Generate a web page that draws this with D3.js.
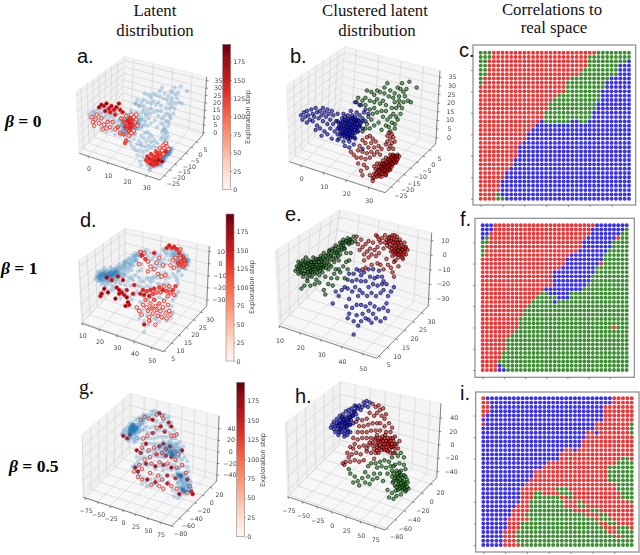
<!DOCTYPE html>
<html>
<head>
<meta charset="utf-8">
<script src="https://d3js.org/d3.v7.min.js"></script>
<style>
  body { margin: 0; background: #fff; }
  svg { display: block; }
</style>
</head>
<body>
<script>
// Latent points, as [across, up] on the box of each 3D view (0-100)
const blue0 = [[8,53],[9,50],[10,55],[11,52],[12,48],[12,56],[13,53],[14,50],[15,57],[16,54],[16,49],[17,52],[18,58],[19,55],[20,51],[19,46],[21,56],[22,53],[23,58],[23,49],[24,55],[25,52],[26,57],[26,47],[27,54],[28,50],[29,56],[18,43],[21,44],[24,42],[22,39],[26,40],[28,44],[30,47],[30,53],[31,42],[29,37],[32,49],[33,40],[33,54],[34,45],[35,42],[35,48],[36,39],[36,44],[36,51],[37,41],[37,46],[37,54],[38,38],[38,43],[38,48],[38,52],[39,40],[39,45],[39,50],[40,37],[40,42],[40,47],[40,53],[41,39],[41,44],[41,49],[42,41],[42,46],[42,51],[42,56],[43,38],[43,43],[43,48],[43,53],[44,45],[44,50],[45,41],[45,47],[45,52],[46,44],[46,49],[46,55],[47,42],[47,50],[48,46],[48,53],[49,48],[50,51],[50,44],[51,55],[52,49],[34,37],[33,36],[37,35],[41,35],[45,37],[38,32],[41,31],[44,33],[45,62],[48,60],[52,57],[54,54],[50,30],[34.5,43.5],[35.5,46],[36.5,41],[36.5,48.5],[37.5,44],[37.5,39.5],[37.5,50],[38.5,46],[38.5,41.5],[39.5,48],[39.5,43],[39.5,38.5],[40.5,45],[40.5,50.5],[40.5,40],[41.5,47],[41.5,42.5],[41.5,37.5],[42.5,44],[42.5,49],[42.5,39.5],[43.5,46],[43.5,41],[43.5,51],[44.5,43],[44.5,48],[44.5,38],[45.5,45],[45.5,50],[46.5,47],[46.5,42],[47.5,45],[47.5,49],[34,47],[35,40],[33,44],[33,49]];
const green0 = [[87,72],[82,76],[77,75],[74,72],[76,71],[78,69],[80,71],[67,75],[65,72],[69,70],[72,68],[75,66],[79,66],[81,63],[83,62],[78,62],[75,63],[71,65],[68,66],[65,68],[62,69],[60,70],[58,67],[56,69],[53,70],[52,65],[50,63],[47,65],[46,62],[49,60],[52,60],[55,63],[58,62],[60,64],[62,61],[64,63],[66,60],[58,58],[55,57],[60,55],[57,54],[63,56],[66,56],[70,58],[72,62],[73,58],[75,60],[77,58],[71,54],[69,52],[73,52],[76,54],[67,50],[70,48],[72,47],[68,45],[72,44],[74,50],[66,46],[69,42],[56,50],[53,47],[58,46],[61,48],[55,44],[52,44],[50,42],[63,43],[48,46],[54,52],[50,49],[64,52]];
const red0 = [[68,41],[67,39],[70,40],[69,37],[71,38],[67,35],[70,34],[69,32],[66,33],[72,35],[68,30],[71,30],[55,39],[53,38],[57,37],[50,36],[52,34],[56,34],[59,35],[54,31],[58,31],[61,32],[63,30],[48,32],[47,29],[50,28],[53,27],[56,28],[60,28],[44,26],[46,24],[49,24],[42,28],[52,23],[55,24],[47,20],[51,19],[49,15],[53,17],[50,12],[58,26],[62,26],[55,12],[57,10],[58,13],[59,16],[60,11],[60,14],[61,18],[62,13],[62,16],[62,20],[63,11],[63,15],[64,18],[64,22],[65,14],[65,17],[65,20],[66,12],[66,16],[66,19],[66,24],[67,15],[67,18],[67,21],[68,17],[68,20],[68,23],[69,16],[69,19],[69,22],[69,26],[70,18],[70,21],[70,24],[71,20],[71,23],[71,26],[72,22],[72,25],[73,21],[73,24],[74,23],[74,26],[75,25],[58,18],[60,20],[57,8],[58,10.5],[59,12.5],[60.5,15.5],[61.5,11.5],[61.5,14.5],[62.5,17.5],[63.5,13],[63.5,16.5],[63.5,19.5],[64.5,15],[64.5,20],[65.5,12.5],[65.5,15.5],[65.5,18.5],[66.5,14],[66.5,17.5],[66.5,21],[67.5,16.5],[67.5,19.5],[67.5,23],[68.5,15.5],[68.5,18.5],[68.5,21.5],[69.5,20.5],[69.5,24],[70.5,19.5],[70.5,22.5],[70.5,25.5],[71.5,21.5],[71.5,24.5],[72.5,23.5],[72.5,20.5],[73.5,25],[73.5,22.5]];
// Explored points: [across, up, exploration step]
const steps0 = [[16,59,185],[18,61,190],[20,60,178],[22,62,195],[24,58,170],[26,60,182],[28,57,165],[30,59,188],[32,62,175],[33,57,160],[25,55,150],[21,56,172],[35,55,155],[29,53,140],[10,51,20],[11,47,12],[13,49,30],[14,53,25],[16,46,10],[18,50,35],[20,45,15],[22,42,8],[23,47,40],[25,43,18],[27,47,45],[29,41,22],[12,44,5],[19,41,28],[34,50,60],[36,47,110],[37,43,130],[38,52,30],[39,48,140],[39,44,120],[40,40,100],[40,36,35],[41,50,125],[41,46,145],[41,42,135],[42,53,15],[42,38,20],[43,48,115],[43,44,128],[44,51,10],[44,40,25],[45,47,40],[46,53,12],[46,49,18],[47,44,22],[36,37,90],[33,38,70],[37,30,105],[38,32,95],[31,43,80],[54,16,120],[55,19,135],[56,14,110],[57,17,150],[58,21,125],[58,13,140],[59,16,130],[60,19,118],[60,12,128],[61,15,145],[62,18,122],[62,23,112],[63,13,135],[63,20,125],[64,16,180],[65,22,115],[65,26,30],[66,19,105],[67,24,20],[68,28,12],[68,21,45],[69,26,15],[70,30,10],[70,23,138],[71,27,25],[67,15,190],[72,25,35]];

const green1 = [[11,59],[12,62],[13,57],[13,65],[14,60],[15,63],[15,58],[16,66],[16,55],[17,61],[18,64],[18,57],[18,68],[19,60],[19,54],[20,63],[20,66],[21,58],[21,61],[22,55],[22,65],[23,60],[23,63],[23,68],[24,57],[24,62],[25,65],[25,53],[26,60],[26,67],[27,63],[27,56],[28,69],[28,61],[29,65],[29,58],[30,62],[30,71],[31,67],[31,55],[32,64],[33,70],[33,60],[34,73],[34,66],[35,62],[35,69],[36,74],[37,71],[37,65],[38,76],[38,68],[39,72],[40,75],[40,66],[41,78],[41,70],[42,73],[43,80],[43,76],[44,74],[45,79],[45,71],[46,81],[47,77],[48,80],[49,78],[50,82],[51,79],[15,47],[17,49],[19,52],[21,49],[24,50],[27,51],[30,46],[31,43],[33,50],[35,54],[37,57],[36,49],[39,54],[41,58],[43,62],[44,54],[46,60],[47,66],[40,60],[48,71],[45,65],[38,60],[12.5,60],[13.5,62],[14.5,58],[14.5,64],[15.5,61],[16.5,57],[16.5,63],[17.5,59],[17.5,65],[18.5,62],[19.5,58],[19.5,64],[20.5,61],[20.5,56],[21.5,65],[21.5,59],[22.5,62],[22.5,58],[23.5,65],[24.5,60],[24.5,67],[25.5,58],[25.5,63],[26.5,65],[26.5,61],[27.5,59],[27.5,67],[28.5,63],[28.5,66],[29.5,61],[29.5,68],[30.5,64],[31.5,61],[31.5,69],[32.5,67],[33.5,63],[33.5,72],[34.5,69],[35.5,72],[36.5,67],[37.5,74],[38.5,71],[39.5,69],[40.5,73],[41.5,76],[42.5,78],[43.5,74],[44.5,78],[46.5,78],[47.5,80]];
const red1 = [[52,82],[53,77],[54,73],[55,80],[56,75],[57,70],[58,77],[59,72],[60,79],[57,66],[60,68],[61,74],[62,70],[63,78],[64,73],[65,69],[66,75],[67,71],[65,83],[68,78],[66,64],[62,63],[58,61],[56,60],[70,74],[66,82],[67,80],[69,81],[71,83],[72,80],[73,78],[74,82],[74,75],[75,79],[75,72],[76,83],[76,76],[76,69],[77,80],[77,73],[78,78],[78,71],[78,66],[79,82],[79,75],[80,68],[80,72],[80,78],[81,80],[81,74],[82,76],[82,70],[83,73],[83,67],[84,78],[84,72],[85,70],[85,75],[86,73],[77,65],[75,61],[73,63],[70,60],[68,63],[72,67],[76,58],[80,62],[77,55],[74,78.5],[75.5,81],[75.5,74],[76.5,78],[76.5,72],[77.5,76],[77.5,70],[77.5,83],[78.5,74],[78.5,80],[79.5,70],[79.5,78],[79.5,73],[80.5,75],[80.5,70],[81.5,72],[81.5,78],[82.5,73],[82.5,68],[83.5,75],[83.5,70],[84.5,74],[72.5,76],[73.5,81],[71,78]];
const blue1 = [[50,16],[53,22],[50,25],[55,25],[52,29],[47,30],[46,27],[58,27],[60,26],[62,24],[56,30],[60,32],[63,30],[65,27],[68,25],[71,27],[73,32],[70,34],[67,33],[72,37],[64,35],[61,37],[58,35],[55,36],[52,36],[49,34],[45,35],[47,40],[36,37],[38,45],[40,42],[42,46],[44,48],[46,47],[49,45],[51,48],[54,46],[53,42],[56,44],[59,42],[62,44],[65,42],[68,44],[70,46],[73,42],[75,45],[77,48],[72,50],[69,50],[66,49],[63,50],[60,48],[58,52],[55,52],[52,53],[49,52],[46,53],[61,55],[64,54],[66,55],[69,55],[57,58],[54,59],[60,60],[63,60],[52,60],[55,56],[50,57],[47,57],[67,59],[70,52]];
const steps1 = [[68,84,140],[70,86,150],[72,84,135],[74,85,145],[76,83,130],[78,80,125],[79,76,40],[80,73,110],[81,77,120],[82,74,105],[77,72,115],[78,70,100],[75,76,30],[73,74,25],[74,68,20],[71,70,15],[83,71,90],[81,69,95],[79,83,60],[47,81,50],[50,80,35],[48,78,140],[51,75,120],[53,73,18],[46,71,10],[55,69,22],[58,80,150],[62,76,12],[60,72,8],[58,67,5],[65,70,14],[53,65,28],[61,63,16],[64,61,20],[67,62,12],[20,60,190],[24,58,170],[29,61,180],[33,58,185],[18,51,195],[16,47,188],[15,45,175],[21,48,192],[28,52,178],[30,50,190],[32,48,185],[34,46,170],[36,44,192],[37,40,188],[35,37,180],[30,47,175],[27,43,196],[38,38,165],[36,50,160],[41,47,155],[42,54,150],[47,47,155],[49,50,140],[50,46,165],[52,49,125],[54,45,150],[55,50,130],[57,47,110],[58,51,135],[60,48,70],[62,52,120],[63,48,60],[65,50,145],[66,53,35],[68,49,100],[70,53,40],[71,48,75],[73,50,125],[74,46,50],[69,45,30],[75,53,115],[44,36,20],[46,33,12],[48,30,15],[49,38,25],[51,42,60],[52,36,18],[53,33,40],[54,28,10],[55,39,45],[56,35,80],[57,31,22],[58,42,100],[59,37,30],[60,34,55],[61,29,14],[62,39,65],[63,33,18],[64,28,25],[65,36,12],[66,41,35],[67,31,8],[68,27,16],[69,38,28],[70,33,20],[71,30,10],[50,22,160],[59,22,30],[54,25,50]];
const heavy1 = [[14,60],[15,62],[16,59],[17,63],[18,61],[19,62],[20,60],[21,63],[22,62],[23,61],[24,64],[25,62],[26,63],[27,65],[28,64],[82,75],[83,74],[84,73],[81,76]];

const blue5 = [[29,69],[30,71],[31,68],[31,73],[32,66],[32,70],[33,72],[33,75],[34,68],[34,64],[35,71],[35,74],[35,77],[36,69],[36,66],[37,72],[37,75],[37,78],[38,70],[38,65],[38,63],[39,73],[39,76],[39,80],[40,68],[40,71],[41,74],[41,78],[41,81],[42,76],[42,71],[43,79],[43,82],[44,77],[45,80],[45,84],[46,78],[47,82],[47,75],[48,84],[49,81],[50,83],[51,86],[52,84],[53,87],[54,83],[55,86],[42,66],[40,64],[44,72],[33.5,70],[34.5,72],[34.5,66],[35.5,68],[36.5,72.5],[36.5,76],[37.5,69],[37.5,74],[38.5,72],[38.5,67],[39.5,70],[39.5,75],[40.5,73],[40.5,66],[41.5,71],[41.5,76],[42.5,74],[43.5,77],[44.5,80],[46,83]];
const red5 = [[57,85],[59,83],[61,84],[62,81],[64,82],[60,79],[58,77],[63,77],[65,75],[66,78],[55,79],[53,75],[50,74],[48,70],[46,73],[51,70],[54,71],[57,72],[60,72],[62,72],[65,70],[68,72],[47,66],[50,66],[53,66],[56,67],[59,67],[62,67],[66,66],[69,66],[70,69],[72,63],[44,62],[47,61],[50,62],[53,62],[56,62],[59,62],[61,60],[63,61],[65,62],[67,60],[69,62],[71,60],[73,58],[75,60],[42,56],[45,58],[48,56],[51,57],[54,57],[57,57],[60,56],[62,57],[64,58],[66,56],[68,57],[70,56],[72,55],[74,55],[63,54],[65,54],[67,53],[69,52],[71,52],[61,52],[59,52],[56,52],[53,53],[49,51],[46,52],[43,51],[41,49],[39,46],[38,44],[37,45],[42,46],[45,47],[48,46],[51,47],[40,52],[44,55],[58,48],[57,59],[58.5,61],[59.5,57.5],[60,64],[60.5,59],[61.5,55],[61.5,62],[62.5,59.5],[63,56],[63.5,63],[64,60],[64.5,55.5],[65,58],[65.5,64],[66,60],[66.5,54],[67,62],[67,57.5],[68,59],[68.5,54.5],[69,60],[69.5,56],[70,58],[70.5,62],[71,56.5],[72,58],[55,59],[53,55],[58,54.5],[60,53.5]];
const green5 = [[72,52],[70,49],[74,50],[76,52],[78,49],[68,46],[65,47],[62,46],[59,45],[56,45],[54,43],[60,42],[63,43],[66,42],[69,43],[72,44],[75,45],[78,44],[70,40],[73,40],[76,40],[79,41],[67,38],[70,36],[73,36],[75,37],[78,37],[71,33],[74,33],[77,33],[80,34],[72,30],[75,30],[78,30],[81,28],[74,27],[77,27],[79,26],[76,24],[73,23],[70,25],[67,27],[68,22],[71,21],[60,35],[57,34],[54,36],[50,35],[47,33],[45,36],[42,38],[41,41],[44,32],[52,32],[55,31],[62,38],[48,30],[64,33],[52,39],[58,38],[71,38],[72,35],[73,33.5],[73.5,38],[74,35],[74.5,31],[75,39],[75.5,34],[76,31.5],[76,37],[76.5,28.5],[77,35],[77.5,30],[78,32],[78.5,28],[79,36],[79,31],[79.5,27],[80,29],[80.5,32],[75,28],[73,29],[72.5,26.5],[70.5,32],[71,43]];
const steps5 = [[30,68,180],[33,66,170],[35,69,190],[43,80,20],[46,82,15],[49,81,30],[52,80,175],[55,84,25],[57,85,160],[59,83,15],[60,81,35],[64,78,150],[66,68,20],[68,68,40],[70,69,10],[66,75,170],[48,68,12],[45,66,25],[52,70,130],[55,74,18],[58,75,160],[61,71,140],[47,62,180],[44,59,30],[40,57,175],[43,55,150],[49,57,20],[53,59,30],[57,60,140],[60,62,175],[62,58,100],[65,60,160],[68,56,20],[71,54,25],[74,57,180],[69,50,30],[66,52,155],[62,53,140],[59,55,40],[55,54,120],[50,52,18],[46,50,22],[42,46,25],[39,44,190],[38,41,20],[41,41,175],[44,43,30],[47,47,165],[51,47,15],[54,45,170],[57,48,30],[60,46,145],[63,47,20],[66,44,180],[70,44,25],[74,46,35],[73,38,160],[77,40,30],[78,35,175],[80,30,20],[81,26,150],[78,25,30],[75,26,25],[72,24,180],[70,28,35],[66,30,28],[63,32,165],[60,28,30],[57,30,22],[54,33,155],[51,31,25],[48,35,170],[44,35,35],[41,37,20],[59,35,18],[69,36,140],[82,24,170],[56,38,30],[63,38,150],[50,40,20]];
const heavy5 = [[35,73],[36,75],[37,72],[38,74],[36,71],[38,71],[39,73],[37,76],[35,70],[40,74],[36,73],[38,76],[66,55],[67,54],[65,56],[68,53],[66,53],[72,38],[73,37],[71,39],[75,27],[76,26],[74,28]];

// Cluster of each site on the real-space map, one row per string (r, g, b + run length)
const gridC = ["g3 r24 g8","g3 r22 g10","g2 r23 g9 b1","g2 r23 g7 b3","g2 r22 g8 b3","g2 r21 g9 b3","g1 r20 g9 b5","g1 r19 g9 b6","r20 g9 b6","r20 g8 b7","r18 g10 b7","r17 g11 b7","r16 g11 b8","r16 g11 b8","r15 g11 b9","r15 g11 b9","r14 b1 g6 b2 g2 b10","r13 b22","r12 b23","r11 b24","r11 b24","r10 b25","r9 b26","r9 b26","r9 b26","r8 b27","r8 b27","r7 b28","r6 b29","r6 b29","r5 b30","r5 b30","r5 b30","r4 g1 b30","r4 g2 b29"];
const gridF = ["b3 r24 b8","b3 r23 b8 g1","b2 r24 b7 g2","b1 g1 r23 b7 r1 g2","g2 r22 b7 g4","g1 r23 b7 g4","g1 r22 b7 g5","g1 r20 b8 g6","r20 b9 g6","r20 b8 r1 g6","r19 b8 g8","r17 b10 g8","r17 b9 g9","r17 b9 g9","r17 b8 g10","r15 b9 g11","r14 g2 b5 g14","r13 g5 b3 g14","r12 g5 b1 g17","r11 g24","r10 g25","r10 g25","r9 g26","r9 g26","r9 g22 r1 g3","r8 g27","r7 g28","r6 g29","r6 g29","r6 g29","r5 g30","r5 g30","r4 g31","r4 b1 g30","r4 b2 g29"];
const gridI = ["r1 b29 r5","r2 b28 r5","r2 b26 r7","r2 b26 r7","r1 b27 r7","b28 r7","r1 b25 r8 g1","b26 r8 g1","b24 r2 b1 r7 g1","b24 r11","b23 r12","b23 r12","b19 r2 b1 r13","b18 r17","b18 r14 g2 r1","b15 r16 g4","b14 r15 g6","b12 r17 g6","b12 r17 g6","b11 r18 g6","b10 r21 g4","b9 r8 g3 r11 g4","b9 r3 g2 r4 g3 r11 g3","b9 r3 g6 r2 g1 r11 g3","b9 r2 g8 r3 g1 r11 g1","b8 r3 g8 r3 g2 r11","b7 r4 g10 r4 g2 r8","b7 r3 g14 r3 g2 r6","b6 r5 g15 r1 g3 r5","b6 r3 g18 r2 g2 r4","b6 r3 g19 r3 g3 r1","b5 r3 g21 r2 g4","b5 r3 g23 r1 g3","b5 r3 g27","b5 r4 g26"];

// Axis ticks of the 3D views
const xTicks0 = [0, 10, 20, 30], yTicks0 = [-25, -20, -15, -10, -5, 0, 5], zTicks0 = [0, 5, 10, 15, 20, 25, 30, 35];
const xTicks1 = [10, 20, 30, 40, 50], yTicks1 = [5, 10, 15, 20, 25, 30], zTicks1 = [-30, -20, -10, 0, 10];
const xTicks5 = [-75, -50, -25, 0, 25, 50, 75], yTicks5 = [-80, -60, -40, -20, 0, 20], zTicks5 = [-40, -20, 0, 20, 40];
const stepTicks = [0, 25, 50, 75, 100, 125, 150, 175];
const stepMax = 199;

const width = 640, height = 555;
const colors = { r: '#ef3535', g: '#3d8f33', b: '#3a30ee' };

const svg = d3.select('body').append('svg').attr('width', width).attr('height', height);
const defs = svg.append('defs');
defs.append('filter').attr('id', 'soft').append('feGaussianBlur').attr('stdDeviation', 0.35);
const grad = defs.append('linearGradient').attr('id', 'reds').attr('x1', 0).attr('x2', 0).attr('y1', 1).attr('y2', 0);
d3.range(0, 1.01, 0.1).forEach(t => grad.append('stop').attr('offset', t).attr('stop-color', d3.interpolateReds(t)));

const lerp = (a, b, t) => [a[0] + (b[0] - a[0]) * t, a[1] + (b[1] - a[1]) * t];
const fmt = d => String(d).replace('-', '\u2212');

// Draws the box, panes, grid and tick labels of one matplotlib style 3D view
function drawBox(g, p) {
  const B = [p.L[0] + p.R[0] - p.F[0], p.L[1] + p.R[1] - p.F[1]];
  const line = d3.line();
  const pane = (pts, fill) => g.append('polygon').attr('points', pts.join(' ')).attr('fill', fill).attr('stroke', '#e2e2e2').attr('stroke-width', 0.6);
  pane([p.L, B, p.BT, p.LT], '#f1f1f1');
  pane([B, p.R, p.RT, p.BT], '#f4f4f4');
  pane([p.L, p.F, p.R, B], '#f7f7f7');

  const xs = d3.scaleLinear().domain(d3.extent(p.xTicks)).range(p.xT);
  const ys = d3.scaleLinear().domain(d3.extent(p.yTicks)).range(p.yT);
  const zs = d3.scaleLinear().domain(d3.extent(p.zTicks)).range(p.zT);
  const grid = (pts) => g.append('path').attr('d', line(pts)).attr('fill', 'none').attr('stroke', '#d2d2d2').attr('stroke-width', 0.7);
  p.xTicks.forEach(d => { const t = xs(d); grid([lerp(p.L, p.F, t), lerp(B, p.R, t), lerp(p.BT, p.RT, t)]); });
  p.yTicks.forEach(d => { const t = ys(d); grid([lerp(p.F, p.R, t), lerp(p.L, B, t), lerp(p.LT, p.BT, t)]); });
  p.zTicks.forEach(d => { const t = zs(d); grid([lerp(p.L, p.LT, t), lerp(B, p.BT, t), lerp(p.R, p.RT, t)]); });

  const edge = pts => g.append('path').attr('d', line(pts)).attr('fill', 'none').attr('stroke', '#555').attr('stroke-width', 0.7);
  edge([p.L, p.F, p.R, p.RT]);

  const label = (pos, dx, dy, d) => g.append('text').attr('x', pos[0] + dx).attr('y', pos[1] + dy + 2)
    .attr('text-anchor', 'middle').attr('font-family', 'DejaVu Sans').attr('font-size', 6.3).attr('fill', '#444').text(fmt(d));
  const tick = (pos, dx, dy) => edge([pos, [pos[0] + dx, pos[1] + dy]]);
  p.xTicks.forEach(d => { const pos = lerp(p.L, p.F, xs(d)); tick(pos, 0.5, 2); label(pos, p.xOff[0], p.xOff[1], d); });
  p.yTicks.forEach(d => { const pos = lerp(p.F, p.R, ys(d)); tick(pos, 2, 1); label(pos, p.yOff[0], p.yOff[1], d); });
  p.zTicks.forEach(d => { const pos = lerp(p.R, p.RT, zs(d)); tick(pos, 2, 0); label(pos, p.zDx, 0, d); });
}

// Screen scales of a view, shared by all its points
function boxScales(p) {
  return {
    u: d3.scaleLinear().domain([0, 100]).range([p.L[0], p.R[0]]),
    v: d3.scaleLinear().domain([0, 100]).range([p.F[1], p.BT[1]])
  };
}

function paleLayer(g, s, pts) {
  g.append('g').selectAll('circle').data(pts).join('circle')
    .attr('cx', d => s.u(d[0])).attr('cy', d => s.v(d[1])).attr('r', 2.1)
    .attr('fill', '#1f77b4').attr('fill-opacity', 0.26);
}

function stepLayer(g, s, pts, strokeCol) {
  const color = d3.scaleSequential(d3.interpolateReds).domain([0, stepMax]);
  g.append('g').selectAll('circle').data(pts).join('circle')
    .attr('cx', d => s.u(d[0])).attr('cy', d => s.v(d[1])).attr('r', 1.8)
    .attr('fill', d => color(d[2])).attr('stroke', strokeCol).attr('stroke-width', 0.8);
}

function latentView(p, pale, steps, blueOnTop) {
  const g = svg.append('g').attr('filter', 'url(#soft)');
  drawBox(g, p);
  const s = boxScales(p);
  if (blueOnTop) {
    stepLayer(g, s, steps, '#d8242a');
    paleLayer(g, s, pale);
  } else {
    paleLayer(g, s, pale);
    stepLayer(g, s, steps, '#f01818');
  }
}

function clusterView(p, clusters) {
  const g = svg.append('g').attr('filter', 'url(#soft)');
  drawBox(g, p);
  const s = boxScales(p);
  clusters.forEach(c => {
    g.append('g').selectAll('circle').data(c.pts).join('circle')
      .attr('cx', d => s.u(d[0])).attr('cy', d => s.v(d[1])).attr('r', 1.8)
      .attr('fill', c.color).attr('fill-opacity', 0.6).attr('stroke', '#000').attr('stroke-width', 0.6);
  });
}

function colorbar(b) {
  const g = svg.append('g').attr('filter', 'url(#soft)');
  const y = d3.scaleLinear().domain([0, stepMax]).range([b.y1, b.y0]);
  g.append('rect').attr('x', b.x).attr('y', b.y0).attr('width', b.w).attr('height', b.y1 - b.y0)
    .attr('fill', 'url(#reds)').attr('stroke', '#888').attr('stroke-width', 0.6);
  const ax = g.append('g').attr('transform', `translate(${b.x + b.w},0)`)
    .call(d3.axisRight(y).tickValues(stepTicks).tickSize(1.5).tickPadding(1));
  ax.select('.domain').remove();
  ax.selectAll('text').attr('font-family', 'DejaVu Sans').attr('font-size', 6.3).attr('fill', '#444');
  ax.selectAll('line').attr('stroke', '#555').attr('stroke-width', 0.5);
  g.append('text').attr('transform', `translate(${b.labelX},${b.labelY}) rotate(-90)`)
    .attr('text-anchor', 'middle').attr('font-family', 'DejaVu Sans').attr('font-size', 6.6).attr('fill', '#444')
    .text('Exploration step');
}

function siteMap(m, rows) {
  const g = svg.append('g').attr('filter', 'url(#soft)');
  const n = d3.range(35);
  const x = d3.scalePoint().domain(n).range([m.x0, m.x1]);
  const y = d3.scalePoint().domain(n).range([m.y1, m.y0]);
  const cells = [];
  rows.forEach((row, i) => {
    let col = 0;
    row.split(' ').forEach(run => {
      d3.range(+run.slice(1)).forEach(() => cells.push({ col: col++, row: 34 - i, k: run[0] }));
    });
  });
  g.append('rect').attr('x', m.fx0).attr('y', m.fy0).attr('width', m.fx1 - m.fx0).attr('height', m.fy1 - m.fy0)
    .attr('fill', '#fff').attr('stroke', '#8a8a8a').attr('stroke-width', 1.2);
  g.selectAll('circle').data(cells).join('circle')
    .attr('cx', d => x(d.col)).attr('cy', d => y(d.row)).attr('r', 1.95).attr('fill', d => colors[d.k]);
  const tv = n.filter(d => d % 5 === 0);
  const bx = g.append('g').attr('transform', `translate(0,${m.fy1})`).call(d3.axisBottom(x).tickValues(tv).tickSize(2).tickFormat(''));
  const ly = g.append('g').attr('transform', `translate(${m.fx0},0)`).call(d3.axisLeft(y).tickValues(tv).tickSize(2).tickFormat(''));
  [bx, ly].forEach(a => { a.select('.domain').remove(); a.selectAll('line').attr('stroke', '#555').attr('stroke-width', 0.6); });
}

const viewA = { L: [79.3, 153.3], F: [160, 180], R: [203, 135], BT: [125, 56.7], LT: [76, 91.7], RT: [206.7, 76.7], xT: [0.108, 0.823], yT: [0.1, 0.85], zT: [0.04, 0.93], xOff: [1, 13], yOff: [9, 8], zDx: 12, xTicks: xTicks0, yTicks: yTicks0, zTicks: zTicks0 };
const viewB = { L: [289.3, 161.7], F: [385, 192.7], R: [435.7, 144], BT: [345, 46.7], LT: [286.7, 85], RT: [440, 70.7], xT: [0.119, 0.825], yT: [0.12, 0.88], zT: [0.086, 0.91], xOff: [1, 14], yOff: [10, 9], zDx: 13, xTicks: xTicks0, yTicks: yTicks0, zTicks: zTicks0 };
const viewD = { L: [81.7, 323.3], F: [163.3, 351.7], R: [206.7, 306], BT: [125, 228.3], LT: [78.3, 261], RT: [209.3, 246], xT: [0, 0.853], yT: [0.02, 0.87], zT: [0.1, 0.905], xOff: [1, 13], yOff: [9, 8], zDx: 12, xTicks: xTicks1, yTicks: yTicks1, zTicks: zTicks1 };
const viewE = { L: [279, 326], F: [376.7, 358.3], R: [428.3, 306], BT: [340, 210], LT: [275, 250.7], RT: [431.7, 232.7], xT: [0, 0.853], yT: [0.04, 0.87], zT: [0.095, 0.89], xOff: [1, 15], yOff: [10, 9], zDx: 14, xTicks: xTicks1, yTicks: yTicks1, zTicks: zTicks1 };
const viewG = { L: [83.3, 497.3], F: [171.7, 526], R: [216.7, 481], BT: [130, 393.3], LT: [82.3, 434.3], RT: [219, 415.7], xT: [0.02, 0.868], yT: [0, 0.86], zT: [0.09, 0.8], xOff: [1, 13], yOff: [9, 8], zDx: 13, xTicks: xTicks5, yTicks: yTicks5, zTicks: zTicks5 };
const viewH = { L: [287.7, 496.7], F: [385, 530], R: [436.7, 477.7], BT: [340, 381.7], LT: [285, 423.3], RT: [441, 403.3], xT: [0.003, 0.894], yT: [0.03, 0.88], zT: [0.08, 0.8], xOff: [1, 14], yOff: [10, 9], zDx: 14, xTicks: xTicks5, yTicks: yTicks5, zTicks: zTicks5 };

latentView(viewA, [...blue0, ...green0, ...red0], steps0, false);
clusterView(viewB, [{ pts: green0, color: '#008000' }, { pts: red0, color: '#ff0000' }, { pts: blue0, color: '#0000ff' }]);
latentView(viewD, [...green1, ...heavy1, ...heavy1, ...red1, ...blue1], steps1, false);
clusterView(viewE, [{ pts: blue1, color: '#0000ff' }, { pts: red1, color: '#ff0000' }, { pts: green1, color: '#006400' }]);
latentView(viewG, [...blue5, ...heavy5, ...heavy5, ...heavy5, ...red5, ...green5], steps5, true);
clusterView(viewH, [{ pts: green5, color: '#008000' }, { pts: red5, color: '#ff0000' }, { pts: blue5, color: '#0000ff' }]);

colorbar({ x: 222.7, w: 8, y0: 44.3, y1: 189.3, labelX: 250, labelY: 117 });
colorbar({ x: 226, w: 8, y0: 214, y1: 361, labelX: 254, labelY: 287 });
colorbar({ x: 236.7, w: 8, y0: 382.3, y1: 536.7, labelX: 265, labelY: 460 });

siteMap({ x0: 480.7, x1: 629, y0: 52.7, y1: 198.7, fx0: 473, fx1: 635.7, fy0: 45, fy1: 205 }, gridC);
siteMap({ x0: 482.7, x1: 626.7, y0: 225.3, y1: 370, fx0: 475, fx1: 634.3, fy0: 218.3, fy1: 377.3 }, gridF);
siteMap({ x0: 483.3, x1: 631.7, y0: 398.3, y1: 545, fx0: 475.7, fx1: 639, fy0: 392, fy1: 552 }, gridI);

// Titles, row labels and panel letters
const titles = [['Latent', 155, 16], ['distribution', 155, 36], ['Clustered latent', 375, 16], ['distribution', 377, 36], ['Correlations to', 552, 15], ['real space', 554, 33]];
svg.selectAll('.title').data(titles).join('text').attr('class', 'title')
  .attr('x', d => d[1]).attr('y', d => d[2]).attr('text-anchor', 'middle')
  .attr('font-family', 'Liberation Serif').attr('font-size', 16.8).attr('fill', '#111').text(d => d[0]);

const betas = [['0', 5, 127], ['1', 1, 274], ['0.5', 9, 472]];
betas.forEach(b => {
  const t = svg.append('text').attr('x', b[1]).attr('y', b[2]).attr('font-family', 'Liberation Serif')
    .attr('font-size', 17.5).attr('font-weight', 'bold').attr('fill', '#000');
  t.append('tspan').attr('font-style', 'italic').text('\u03b2');
  t.append('tspan').text(' = ' + b[0]);
});

const letters = [['a.', 77, 63, 0], ['b.', 290, 63, 0], ['c.', 459, 57, 0], ['d.', 80, 227, 0], ['e.', 285, 221, 0], ['f.', 460, 226, 0], ['g.', 79, 394, 1], ['h.', 295, 403, 0], ['i.', 460, 400, 0]];
svg.selectAll('.letter').data(letters).join('text').attr('class', 'letter')
  .attr('x', d => d[1]).attr('y', d => d[2])
  .attr('font-family', d => d[3] ? 'Liberation Serif' : 'Liberation Sans').attr('font-size', 20).attr('fill', '#111').text(d => d[0]);
</script>
</body>
</html>
